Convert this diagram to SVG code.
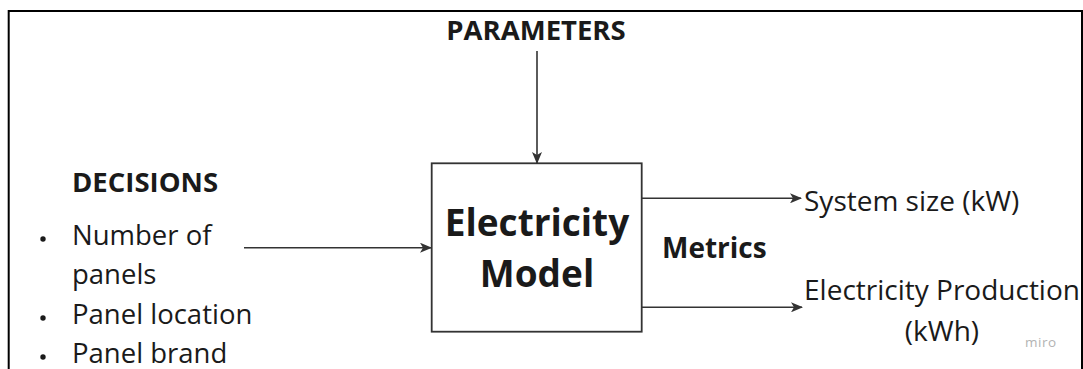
<svg xmlns="http://www.w3.org/2000/svg" width="1083" height="369" viewBox="0 0 1083 369">
  <style>
    text { font-family: "Open Sans", "Noto Sans", "Liberation Sans", sans-serif; fill: #1a1a1a; }
    .bold { font-weight: 700; }
    .body { font-size: 27.5px; }
    .out { font-size: 28px; }
    .head { font-size: 27.5px; font-weight: 700; }
    .dot { fill: #1a1a1a; }
    .link { stroke: #333; stroke-width: 1.6; fill: none; marker-end: url(#arrow); }
  </style>
  <defs>
    <marker id="arrow" viewBox="0 0 12 10" refX="11" refY="5" markerUnits="userSpaceOnUse" markerWidth="12" markerHeight="10" orient="auto">
      <path d="M0,0 L12,5 L0,10 L3,5 Z" fill="#333"/>
    </marker>
  </defs>

  <rect width="1083" height="369" fill="#fff"/>

  <!-- outer frame, open at the bottom -->
  <path d="M8.7,369 V11 H1082 V369" fill="none" stroke="#000" stroke-width="2"/>

  <g id="parameters">
    <text class="head" x="536" y="40" text-anchor="middle">PARAMETERS</text>
  </g>

  <g id="decisions">
    <text class="head" x="72" y="192" font-size="27">DECISIONS</text>
    <circle class="dot" cx="43" cy="239" r="2.7"/>
    <text class="body" x="72" y="245">Number of</text>
    <text class="body" x="72" y="284">panels</text>
    <circle class="dot" cx="43" cy="318" r="2.7"/>
    <text class="body" x="72" y="324">Panel location</text>
    <circle class="dot" cx="43" cy="357" r="2.7"/>
    <text class="body" x="72" y="363">Panel brand</text>
  </g>

  <g id="model">
    <rect x="431.7" y="163.3" width="210" height="168.4" fill="#fff" stroke="#333" stroke-width="1.8"/>
    <text class="bold" x="537" y="236" font-size="37" text-anchor="middle">Electricity</text>
    <text class="bold" x="537" y="287" font-size="37" text-anchor="middle">Model</text>
  </g>

  <g id="metrics">
    <text class="bold" x="662" y="258" font-size="28">Metrics</text>
  </g>

  <g id="system-size">
    <text class="out" x="804" y="211">System size (kW)</text>
  </g>

  <g id="production">
    <text class="out" x="942" y="300" text-anchor="middle">Electricity Production</text>
    <text class="out" x="942" y="341" text-anchor="middle">(kWh)</text>
  </g>

  <text x="1025" y="347" font-size="13.5" style="fill:#b3b3b3" letter-spacing="0.5">miro</text>

  <g id="connectors">
    <path class="link" d="M537,51 V163"/>
    <path class="link" d="M244,247.7 H431"/>
    <path class="link" d="M642,198.3 H801"/>
    <path class="link" d="M642,307.3 H802"/>
  </g>
</svg>
